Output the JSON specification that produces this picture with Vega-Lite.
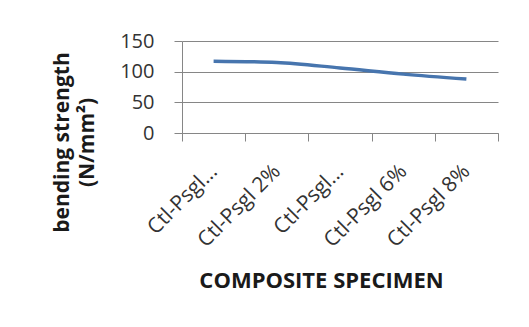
{
  "$schema": "https://vega.github.io/schema/vega-lite/v6.json",
  "width": 316,
  "height": 92,
  "autosize": {"type": "none"},
  "padding": {"left": 182, "top": 41, "right": 31, "bottom": 194},
  "background": "white",
  "data": {
    "values": [
      {"specimen": "Ctl-Psgl 0%", "strength": 117},
      {"specimen": "Ctl-Psgl 2%", "strength": 115},
      {"specimen": "Ctl-Psgl 4%", "strength": 106},
      {"specimen": "Ctl-Psgl 6%", "strength": 96},
      {"specimen": "Ctl-Psgl 8%", "strength": 88}
    ]
  },
  "mark": {"type": "line", "interpolate": "monotone", "color": "#4775AE", "strokeWidth": 3.5},
  "encoding": {
    "x": {
      "field": "specimen",
      "type": "nominal",
      "sort": null,
      "bandPosition": 0.5,
      "scale": {"type": "band", "paddingInner": 0, "paddingOuter": 0},
      "axis": {
        "title": "COMPOSITE SPECIMEN",
        "titleFont": "Open Sans",
        "titleFontSize": 22,
        "titleFontWeight": "bold",
        "titleColor": "#1a1a1a",
        "titleX": 139,
        "titleY": 147,
        "titleAlign": "center",
        "titleBaseline": "middle",
        "labelExpr": "datum.value == 'Ctl-Psgl 0%' || datum.value == 'Ctl-Psgl 4%' ? 'Ctl-Psgl...' : datum.value",
        "labelAngle": -45,
        "labelAlign": "right",
        "labelBaseline": "middle",
        "labelPadding": 27,
        "labelFont": "Open Sans",
        "labelFontSize": 21,
        "labelColor": "#333333",
        "labelOverlap": false,
        "labelLimit": 300,
        "tickBand": "extent",
        "tickSize": 8,
        "tickColor": "#868686",
        "domainColor": "#868686",
        "grid": false
      }
    },
    "y": {
      "field": "strength",
      "type": "quantitative",
      "scale": {"domain": [0, 150], "nice": false},
      "axis": {
        "values": [0, 50, 100, 150],
        "title": ["bending strength", "(N/mm²)"],
        "titleFont": "Open Sans",
        "titleFontSize": 21,
        "titleFontWeight": "bold",
        "titleColor": "#1a1a1a",
        "titleLineHeight": 25,
        "titleAngle": -90,
        "titleX": -120,
        "titleY": 101,
        "titleAlign": "center",
        "titleBaseline": "middle",
        "labelFont": "Open Sans",
        "labelFontSize": 20,
        "labelColor": "#333333",
        "labelPadding": 20,
        "tickSize": 8,
        "tickColor": "#868686",
        "domainColor": "#868686",
        "grid": true,
        "gridColor": "#868686",
        "gridWidth": 1
      }
    }
  },
  "config": {"view": {"stroke": null}}
}
